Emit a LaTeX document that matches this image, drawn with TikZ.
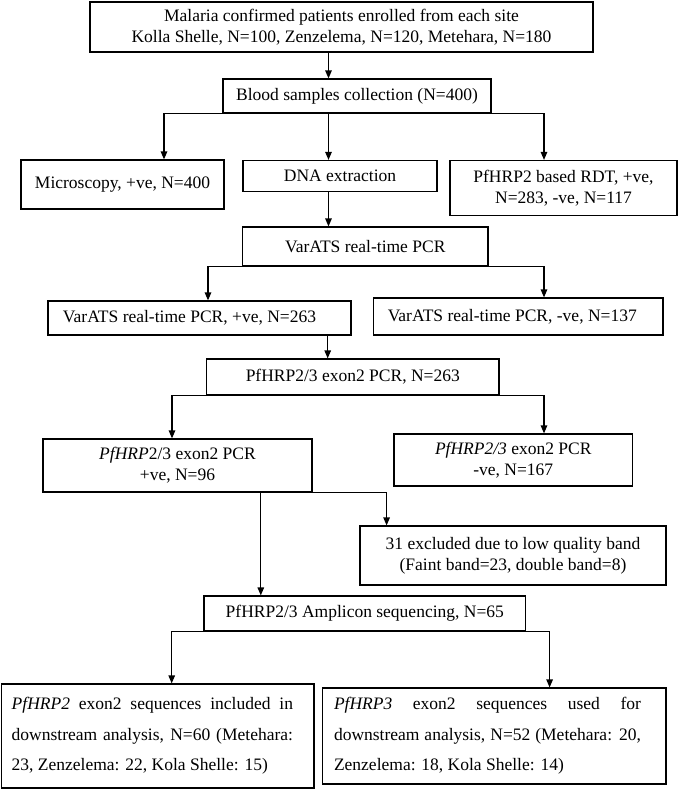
\documentclass[tikz,border=0pt]{standalone}
\usepackage{fontspec}
\setmainfont{Liberation Serif}
\usetikzlibrary{arrows.meta}
\begin{document}
\begin{tikzpicture}[x=1pt,y=-1pt,
  box/.style={draw, line width=1.2pt, align=center, inner sep=0pt,
    font=\fontsize{17.5}{20.7}\selectfont},
  finbox/.style={draw, line width=1.2pt, inner sep=0pt,
    font=\fontsize{17.5}{30.5}\selectfont},
  arr/.style={line width=1.2pt, -{Triangle[length=8pt,width=6.5pt]}}]
\useasboundingbox (0,0) rectangle (685,790);

\node[box, minimum width=503pt, minimum height=50pt] (top) at (341.5,27)
  {Malaria confirmed patients enrolled from each site\\Kolla Shelle, N=100, Zenzelema, N=120, Metehara, N=180};
\node[box, minimum width=268pt, minimum height=34pt] (blood) at (357,96)
  {Blood samples collection (N=400)};
\node[box, minimum width=203pt, minimum height=49pt] (micro) at (122.5,184.5)
  {Microscopy, +ve, N=400};
\node[box, minimum width=194pt, minimum height=31pt] (dna) at (340,176)
  {DNA extraction};
\node[box, minimum width=227pt, minimum height=55pt] (rdt) at (563.5,188)
  {PfHRP2 based RDT, +ve,\\N=283, -ve, N=117};
\node[box, minimum width=245.5pt, minimum height=39pt] (varats) at (365.25,246.5)
  {VarATS real-time PCR};
\node[box, minimum width=303pt, minimum height=34pt] (vpos) at (199.5,318)
  {\hspace*{-20pt}VarATS real-time PCR, +ve, N=263};
\node[box, minimum width=289.5pt, minimum height=37pt] (vneg) at (518.25,316.5)
  {\hspace*{-12pt}VarATS real-time PCR, -ve, N=137};
\node[box, minimum width=292.4pt, minimum height=36pt] (exon) at (352.8,377)
  {PfHRP2/3 exon2 PCR, N=263};
\node[box, minimum width=269pt, minimum height=53pt] (epos) at (177.5,465.5)
  {\textit{PfHRP}2/3 exon2 PCR\\+ve, N=96};
\node[box, minimum width=238.6pt, minimum height=52pt] (eneg) at (513.3,460)
  {\textit{PfHRP2/3} exon2 PCR\\-ve, N=167};
\node[box, minimum width=306pt, minimum height=59pt] (excl) at (513,555.5)
  {31 excluded due to low quality band\\(Faint band=23, double band=8)};
\node[box, minimum width=321.6pt, minimum height=35pt] (amp) at (364.8,613.5)
  {PfHRP2/3 Amplicon sequencing, N=65};
\node[finbox, minimum width=312.3pt, minimum height=104pt] (fin2) at (157.85,736)
  {\raisebox{-4pt}{\begin{minipage}[t]{281.3pt}\hyphenpenalty=10000\exhyphenpenalty=10000
   \textit{PfHRP2} exon2 sequences included in\linebreak downstream analysis, N=60 (Metehara:\linebreak 23, Zenzelema: 22, Kola Shelle: 15)\end{minipage}}\hspace*{11pt}};
\node[finbox, minimum width=343.3pt, minimum height=96pt] (fin3) at (494.35,736)
  {\raisebox{-2pt}{\begin{minipage}[t]{307pt}\hyphenpenalty=10000\exhyphenpenalty=10000
   \textit{PfHRP3} exon2 sequences used for\linebreak downstream analysis, N=52 (Metehara: 20,\linebreak Zenzelema: 18, Kola Shelle: 14)\end{minipage}}\hspace*{13.7pt}};

\coordinate (xm) at (328.5,0);
\coordinate (xa) at (164,0);
\coordinate (xc) at (544,0);
\coordinate (xv) at (208,0);
\coordinate (xp) at (327.7,0);
\coordinate (xe) at (172,0);
\coordinate (xs) at (260.8,0);
\coordinate (xx) at (386.6,0);
\coordinate (xf1) at (171.7,0);
\coordinate (xf2) at (549.6,0);

\draw[arr] (top.south -| xm) -- (blood.north -| xm);
\draw[arr] (blood.south) -| (xa |- micro.north);
\draw[arr] (blood.south) -| (xc |- rdt.north);
\draw[arr] (blood.south -| xm) -- (dna.north -| xm);
\draw[arr] (dna.south -| xm) -- (varats.north -| xm);
\draw[arr] (varats.south) -| (xv |- vpos.north);
\draw[arr] (varats.south) -| (xc |- vneg.north);
\draw[arr] (vpos.south -| xp) -- (exon.north -| xp);
\draw[arr] (exon.south) -| (xe |- epos.north);
\draw[arr] (exon.south) -| (xc |- eneg.north);
\draw[arr] (epos.south -| xs) -- (amp.north -| xs);
\draw[arr] (epos.south east) -| (xx |- excl.north);
\draw[arr] (amp.south) -| (xf1 |- fin2.north);
\draw[arr] (amp.south) -| (xf2 |- fin3.north);
\end{tikzpicture}
\end{document}
